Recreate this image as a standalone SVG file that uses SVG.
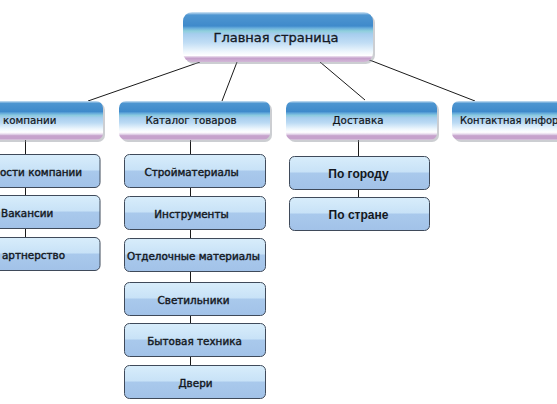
<svg xmlns="http://www.w3.org/2000/svg" width="557" height="404" viewBox="0 0 557 404">
<defs>
<linearGradient id="gTop" x1="0" y1="0" x2="0" y2="1">
<stop offset="0" stop-color="#d6e8f6"/>
<stop offset="0.06" stop-color="#4f96d1"/>
<stop offset="0.28" stop-color="#3f8acb"/>
<stop offset="0.32" stop-color="#66abdb"/>
<stop offset="0.38" stop-color="#8fd0dc"/>
<stop offset="0.44" stop-color="#a6cdee"/>
<stop offset="0.62" stop-color="#c2def5"/>
<stop offset="0.8" stop-color="#f0f8fd"/>
<stop offset="0.87" stop-color="#ffffff"/>
<stop offset="0.9" stop-color="#d9c2de"/>
<stop offset="0.93" stop-color="#c6a2cc"/>
<stop offset="1" stop-color="#d2b8d7"/>
</linearGradient>
<linearGradient id="gL2" x1="0" y1="0" x2="0" y2="1">
<stop offset="0" stop-color="#d0e4f4"/>
<stop offset="0.06" stop-color="#4d95d0"/>
<stop offset="0.27" stop-color="#3f8acb"/>
<stop offset="0.31" stop-color="#62a8da"/>
<stop offset="0.37" stop-color="#8ccbe0"/>
<stop offset="0.43" stop-color="#a6cdee"/>
<stop offset="0.56" stop-color="#bcdbf4"/>
<stop offset="0.72" stop-color="#eef7fd"/>
<stop offset="0.8" stop-color="#ffffff"/>
<stop offset="0.85" stop-color="#e6d9ec"/>
<stop offset="0.89" stop-color="#c6a2cc"/>
<stop offset="0.97" stop-color="#c6a2cc"/>
<stop offset="1" stop-color="#ddd0e2"/>
</linearGradient>
<linearGradient id="gCh" x1="0" y1="0" x2="0" y2="1">
<stop offset="0" stop-color="#d8edfb"/>
<stop offset="0.47" stop-color="#c8e2f7"/>
<stop offset="0.5" stop-color="#a9c9ec"/>
<stop offset="1" stop-color="#a2c2e8"/>
</linearGradient>
</defs>
<style>
.sh{fill:#8d939c;opacity:0.45}
.top{fill:url(#gTop)}
.l2{fill:url(#gL2)}
.ch{fill:url(#gCh);stroke:#3f4a5a;stroke-width:1}
.con{stroke:#1a1a1a;stroke-width:1;fill:none}
.tt{font-family:"DejaVu Sans",Verdana,sans-serif;font-size:13px;fill:#141a24;stroke:#141a24;stroke-width:0.35;text-anchor:middle}
.t2{font-family:"DejaVu Sans",Verdana,sans-serif;font-size:10.3px;fill:#101418;stroke:#101418;stroke-width:0.2;text-anchor:middle}
.tc{font-family:"DejaVu Sans",Verdana,sans-serif;font-size:10.4px;fill:#141820;stroke:#141820;stroke-width:0.4;text-anchor:middle}
.tb{font-family:"Liberation Sans",Arial,sans-serif;font-size:12px;font-weight:bold;fill:#141820;text-anchor:middle}
.st{text-anchor:start}
</style>
<rect width="557" height="404" fill="#ffffff"/>
<g id="connectors">
<line class="con" x1="200" y1="62" x2="88" y2="101"/>
<line class="con" x1="237" y1="62" x2="222" y2="101"/>
<line class="con" x1="320" y1="62" x2="365" y2="100"/>
<line class="con" x1="367" y1="59" x2="475" y2="101"/>
<line class="con" x1="25.5" y1="140" x2="25.5" y2="154"/>
<line class="con" x1="25.5" y1="187" x2="25.5" y2="195"/>
<line class="con" x1="25.5" y1="228" x2="25.5" y2="237"/>
<line class="con" x1="190.5" y1="140" x2="190.5" y2="154"/>
<line class="con" x1="190.5" y1="187" x2="190.5" y2="196"/>
<line class="con" x1="190.5" y1="229" x2="190.5" y2="238"/>
<line class="con" x1="190.5" y1="271" x2="190.5" y2="282"/>
<line class="con" x1="190.5" y1="315" x2="190.5" y2="323"/>
<line class="con" x1="190.5" y1="356" x2="190.5" y2="365"/>
<line class="con" x1="358.5" y1="140" x2="358.5" y2="156"/>
<line class="con" x1="358.5" y1="189" x2="358.5" y2="197"/>
</g>
<g id="home">
<rect class="sh" x="185" y="14" width="190" height="50" rx="9"/>
<rect class="top" x="183" y="12" width="190" height="50" rx="9"/>
<text class="tt" x="276" y="41.5">Главная страница</text>
</g>
<g id="about">
<rect class="sh" x="-46" y="103" width="151" height="39" rx="7"/>
<rect class="l2" x="-48" y="101" width="151" height="39" rx="7"/>
<text class="t2 st" x="3" y="124">компании</text>
</g>
<g id="catalog">
<rect class="sh" x="121" y="103" width="151" height="39" rx="7"/>
<rect class="l2" x="119" y="101" width="151" height="39" rx="7"/>
<text class="t2" x="191" y="124">Каталог товаров</text>
</g>
<g id="delivery">
<rect class="sh" x="288" y="103" width="151" height="39" rx="7"/>
<rect class="l2" x="286" y="101" width="151" height="39" rx="7"/>
<text class="t2" x="358" y="124">Доставка</text>
</g>
<g id="contact">
<rect class="sh" x="454" y="103" width="151" height="39" rx="7"/>
<rect class="l2" x="452" y="101" width="151" height="39" rx="7"/>
<text class="t2 st" x="460" y="124" style="font-size:9.9px">Контактная инфор</text>
</g>
<g id="news">
<rect class="ch" x="-41" y="154.5" width="141" height="33" rx="5"/>
<text class="tc st" x="0" y="176">ости компании</text>
</g>
<g id="vacancies">
<rect class="ch" x="-41" y="195.5" width="141" height="33" rx="5"/>
<text class="tc st" x="1" y="217">Вакансии</text>
</g>
<g id="partners">
<rect class="ch" x="-41" y="237.5" width="141" height="33" rx="5"/>
<text class="tc st" x="2" y="259">артнерство</text>
</g>
<g id="c1">
<rect class="ch" x="124.5" y="154.5" width="141" height="33" rx="5"/>
<text class="tc" x="191.5" y="176">Стройматериалы</text>
</g>
<g id="c2">
<rect class="ch" x="124.5" y="196.5" width="141" height="33" rx="5"/>
<text class="tc" x="191.5" y="218">Инструменты</text>
</g>
<g id="c3">
<rect class="ch" x="124.5" y="238.5" width="141" height="33" rx="5"/>
<text class="tc" x="193.5" y="260">Отделочные материалы</text>
</g>
<g id="c4">
<rect class="ch" x="124.5" y="282.5" width="141" height="33" rx="5"/>
<text class="tc" x="193.5" y="304">Светильники</text>
</g>
<g id="c5">
<rect class="ch" x="124.5" y="323.5" width="141" height="33" rx="5"/>
<text class="tc" x="194.5" y="345">Бытовая техника</text>
</g>
<g id="c6">
<rect class="ch" x="124.5" y="365.5" width="141" height="33" rx="5"/>
<text class="tc" x="195.5" y="387">Двери</text>
</g>
<g id="d1">
<rect class="ch" x="289.5" y="156.5" width="140" height="33" rx="5"/>
<text class="tb" x="358.5" y="177.5">По городу</text>
</g>
<g id="d2">
<rect class="ch" x="289.5" y="197.5" width="140" height="33" rx="5"/>
<text class="tb" x="358.5" y="218.5">По стране</text>
</g>
</svg>
